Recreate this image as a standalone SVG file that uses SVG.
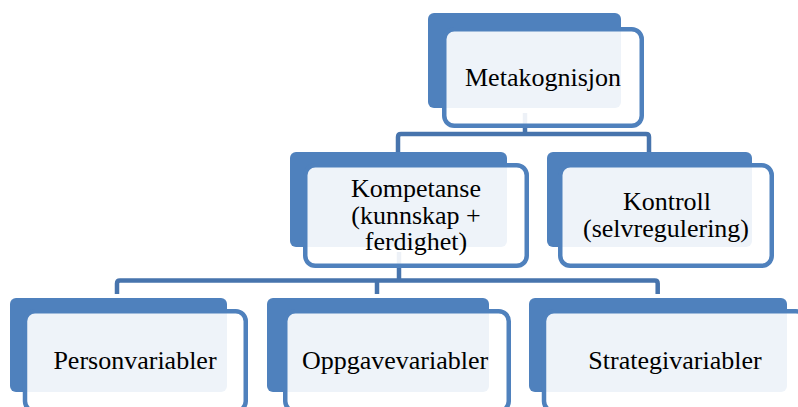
<svg xmlns="http://www.w3.org/2000/svg" width="798" height="407" viewBox="0 0 798 407">
<style>
.back{fill:#4F81BD}
.front{fill:#FFFFFF;fill-opacity:0.9;stroke:#4F81BD;stroke-width:4.5}
.conn{fill:none;stroke:#4774AD;stroke-width:4.5}
text{font-family:"Liberation Serif","Times New Roman",serif;font-size:26px;fill:#000;text-anchor:middle}
</style>
<rect width="798" height="407" fill="#FFFFFF"/>
<g id="connectors">
<path class="conn" d="M525,113 V134"/>
<path class="conn" d="M398,152 V137 Q398,134 401,134 H646 Q649,134 649,137 V152"/>
<path class="conn" d="M399,252 V280.5"/>
<path class="conn" d="M117,294 V283.5 Q117,280.5 120,280.5 H654.7 Q657.7,280.5 657.7,283.5 V294"/>
<path class="conn" d="M377,294 V280.5"/>
</g>
<g id="metakognisjon">
<rect class="back" x="428" y="13" width="193" height="95" rx="6"/>
<rect class="front" x="444.25" y="29.25" width="197.5" height="96.5" rx="10"/>
<text x="543" y="86">Metakognisjon</text>
</g>
<g id="kompetanse">
<rect class="back" x="290" y="152" width="217" height="95" rx="6"/>
<rect class="front" x="305.25" y="165.25" width="221.5" height="100.5" rx="10"/>
<text x="416" y="197">Kompetanse</text>
<text x="416" y="223.5">(kunnskap +</text>
<text x="416" y="250">ferdighet)</text>
</g>
<g id="kontroll">
<rect class="back" x="547" y="152" width="205" height="95" rx="6"/>
<rect class="front" x="560.25" y="165.25" width="211.5" height="100.5" rx="10"/>
<text x="667" y="210">Kontroll</text>
<text x="666" y="236.5">(selvregulering)</text>
</g>
<g id="personvariabler">
<rect class="back" x="10" y="298" width="217" height="94" rx="6"/>
<rect class="front" x="25" y="311.25" width="220.75" height="100" rx="10"/>
<text x="135" y="369">Personvariabler</text>
</g>
<g id="oppgavevariabler">
<rect class="back" x="267" y="298" width="222" height="94" rx="6"/>
<rect class="front" x="285.25" y="311.25" width="223.5" height="100" rx="10"/>
<text x="395" y="369">Oppgavevariabler</text>
</g>
<g id="strategivariabler">
<rect class="back" x="529" y="298" width="258" height="94" rx="6"/>
<rect class="front" x="544" y="311.25" width="262" height="100" rx="10"/>
<text x="675" y="369">Strategivariabler</text>
</g>
</svg>
